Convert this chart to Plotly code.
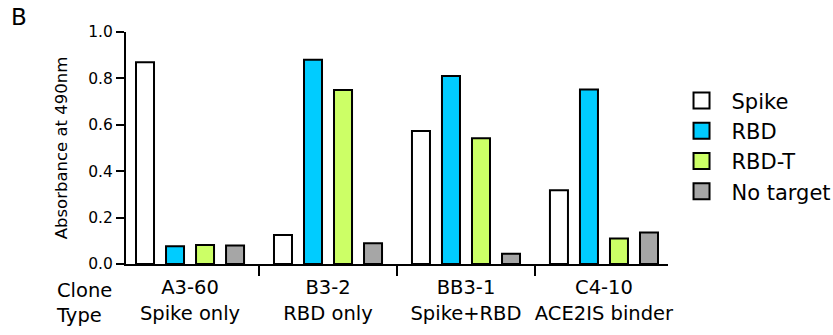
import plotly.graph_objects as go

clones = ["A3-60", "B3-2", "BB3-1", "C4-10"]
types = ["Spike only", "RBD only", "Spike+RBD", "ACE2IS binder"]
series_names = ["Spike", "RBD", "RBD-T", "No target"]
spike = [0.870, 0.125, 0.573, 0.318]
rbd = [0.076, 0.880, 0.810, 0.752]
rbd_t = [0.082, 0.750, 0.542, 0.110]
no_target = [0.080, 0.089, 0.044, 0.136]
colors = ["#FFFFFF", "#00CCFF", "#CCFF66", "#A6A6A6"]
y_ticks = [0.0, 0.2, 0.4, 0.6, 0.8, 1.0]

cats = [f"{c}<br>{t}" for c, t in zip(clones, types)]
values = [spike, rbd, rbd_t, no_target]

FONT = "DejaVu Sans, Arial, sans-serif"

fig = go.Figure()
for name, vals, col in zip(series_names, values, colors):
    fig.add_trace(go.Bar(
        x=cats, y=vals, name=name, showlegend=False,
        marker=dict(color=col, line=dict(color="black", width=2)),
    ))
for i, (name, col) in enumerate(zip(series_names, colors)):
    fig.add_trace(go.Scatter(
        x=[None], y=[None], mode="markers", name=name, legendgroup=f"g{i}",
        marker=dict(symbol="square", size=16, color=col, line=dict(color="black", width=2)),
    ))

fig.update_layout(
    width=833, height=335,
    margin=dict(l=126, r=165, t=32, b=71, autoexpand=False),
    paper_bgcolor="white", plot_bgcolor="white",
    barmode="group", bargap=0.13, bargroupgap=0.4,
    font=dict(family=FONT, color="black", size=16),
    legend=dict(x=1.0065, y=0.792, xanchor="left", yanchor="top",
                font=dict(size=21), itemsizing="trace", itemwidth=50,
                tracegroupgap=0, bgcolor="rgba(0,0,0,0)"),
)
fig.update_xaxes(
    type="category", range=[-0.464, 3.464], automargin=False,
    showline=True, linewidth=2, linecolor="black",
    ticks="outside", tickson="boundaries", ticklen=10, tickwidth=2, tickcolor="black",
    showgrid=False, zeroline=False, tickfont=dict(size=19.5), ticklabelstandoff=5,
    tickangle=0,
)
fig.update_yaxes(
    range=[0, 1], tickvals=y_ticks, ticktext=[f"{v:.1f}" for v in y_ticks],
    automargin=False,
    showline=True, linewidth=2, linecolor="black",
    ticks="outside", ticklen=8, tickwidth=2, tickcolor="black",
    showgrid=False, zeroline=False, tickfont=dict(size=15.5),
    title=dict(text="Absorbance at 490nm", font=dict(size=16.5), standoff=16),
)
fig.add_annotation(text="Clone<br>Type", xref="paper", yref="paper",
                   x=-0.133, y=-0.055, xanchor="left", yanchor="top",
                   align="left", showarrow=False, font=dict(size=19.5))
fig.add_annotation(text="B", xref="paper", yref="paper",
                   x=-0.215, y=1.13, xanchor="left", yanchor="top",
                   showarrow=False, font=dict(size=23))

fig.write_html("out.html", config={"displayModeBar": False},
               post_script="document.body.style.margin='0px';")
